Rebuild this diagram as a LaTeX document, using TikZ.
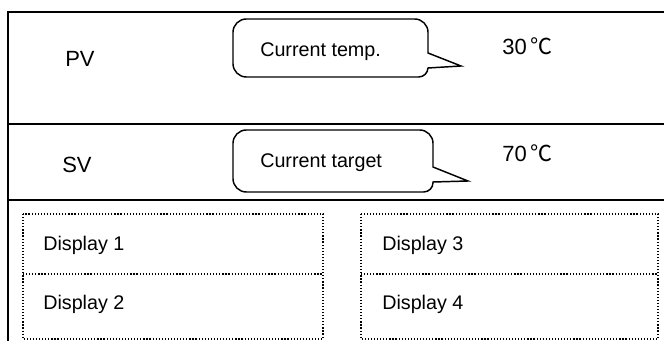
\documentclass[tikz,border=0pt]{standalone}
\usepackage{fontspec}
\setmainfont{Liberation Sans}
\newfontfamily\cjkfont{Noto Sans CJK SC}

\begin{document}
\begin{tikzpicture}[x=0.75pt,y=-0.75pt,
		frame/.style={line width=1.6pt},
		bubble/.style={line width=1.1pt, rounded corners=10pt},
		dotbox/.style={line width=0.9pt, dash pattern=on 0.9pt off 1.4pt},
		big/.style={font=\fontsize{16.5}{19}\selectfont, inner sep=0pt, anchor=base west},
		small/.style={font=\fontsize{14.8}{17}\selectfont, inner sep=0pt, anchor=base west}]
			\useasboundingbox (0,0) rectangle (664,341);
			% panel frame
			\draw[frame] (664,12) -- (8,12) -- (8,341);
			\draw[frame] (8,124) -- (664,124);
			\draw[frame] (8,200) -- (664,200);
			% callouts
			\draw[bubble] (330,19) -- (428,19) [sharp corners] -- (428,53) -- (461,66) -- (428,68) [rounded corners=7pt] -- (428,77) [rounded corners=10pt] -- (233,77) -- (233,19) -- cycle;
			\draw[bubble] (330,130) -- (433,130) [sharp corners] -- (433,167) -- (468,181) -- (433,182) [rounded corners=7pt] -- (433,192) [rounded corners=10pt] -- (233,192) -- (233,130) -- cycle;
			\node[big] (pv) at (65,67) {PV};
			\node[big] (sv) at (62,173) {SV};
			\node[small] (curtemp) at (260,57) {Current temp.};
			\node[small] (curtarget) at (260,168) {Current target};
			\node[big] (pvval) at (502,55) {30\,{\cjkfont ℃}};
			\node[big] (svval) at (502,162) {70\,{\cjkfont ℃}};
			% display cells
			\draw[dotbox] (23,214) rectangle (323,339);
			\draw[dotbox] (23,274) -- (323,274);
			\draw[dotbox] (361,214) rectangle (658,339);
			\draw[dotbox] (361,274) -- (658,274);
			\node[small] (disp1) at (43,251) {Display 1};
			\node[small] (disp2) at (43,310) {Display 2};
			\node[small] (disp3) at (382,251) {Display 3};
			\node[small] (disp4) at (382,310) {Display 4};
		\end{tikzpicture}
\end{document}
